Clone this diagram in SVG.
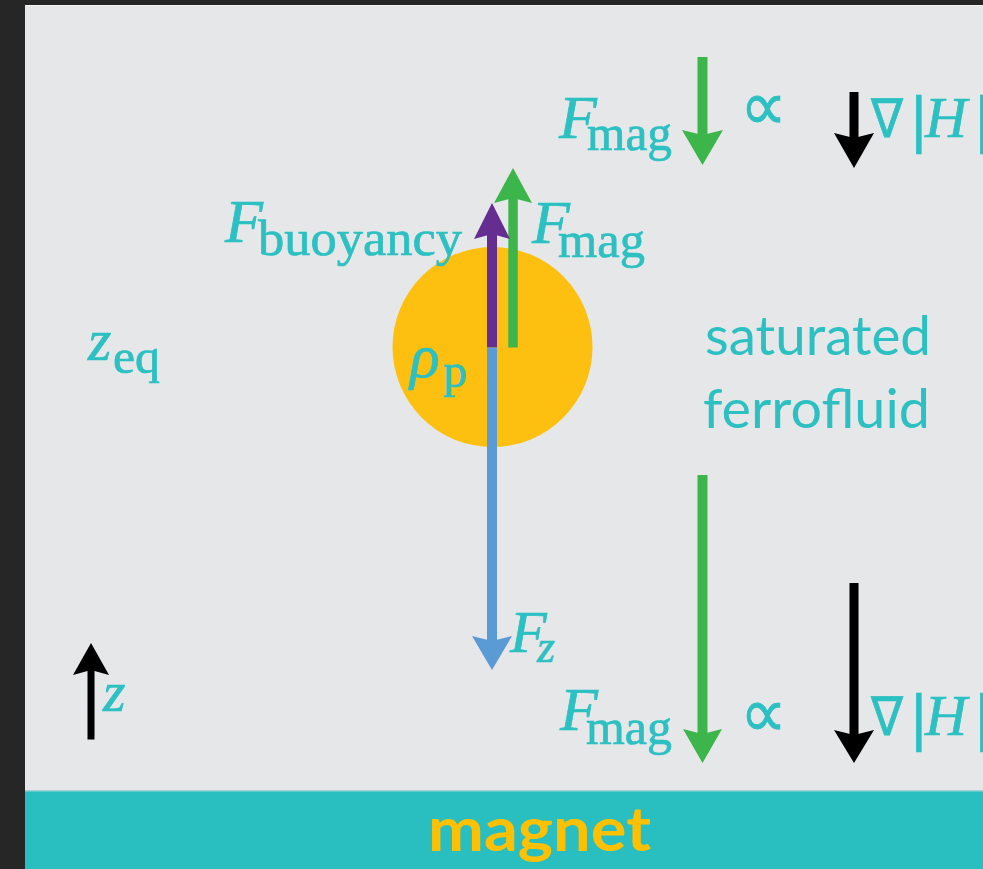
<svg xmlns="http://www.w3.org/2000/svg" width="983" height="869" viewBox="0 0 983 869">
<style>
.m{font-family:"Liberation Serif","DejaVu Serif",serif;fill:#2cc0c2;stroke:#2cc0c2;stroke-width:0.7}
.i{font-style:italic}
.d{font-family:"DejaVu Sans",sans-serif}
.g{font-family:Lato,"Open Sans",sans-serif;fill:#2cc0c2}
.grn{fill:#3cb54a}
.blk{fill:#000}
.pur{fill:#662d91}
.blu{fill:#5b9bd5}
</style>
<rect x="0" y="0" width="983" height="869" fill="#262626"/>
<rect x="25" y="5" width="958" height="1.5" fill="#f4f4f4"/>
<rect x="25" y="6" width="958" height="863" fill="#e6e7e8"/>
<g id="magnet">
<rect x="25" y="791" width="958" height="78" fill="#29bfc0"/>
<rect x="25" y="790" width="958" height="1.5" fill="#9fd3d4"/>
<text x="428" y="851" font-family="Lato,'Open Sans',sans-serif" font-weight="bold" font-size="62" fill="#ffc000" textLength="223" lengthAdjust="spacingAndGlyphs">magnet</text>
</g>
<g id="particle">
<circle cx="492.5" cy="347" r="100" fill="#fdc011"/>
<text class="m i" x="410" y="377" font-size="62">ρ</text>
<text class="m" x="443" y="387" font-size="48">p</text>
</g>
<g id="connectors">
<rect class="grn" x="508.3" y="198" width="9.5" height="149.5"/>
<path class="grn" d="M513,168 L532,203 L513,198 L494,203 Z"/>
<rect class="pur" x="487" y="233" width="10" height="114.5"/>
<path class="pur" d="M492,203 L510,239 L492,234 L474,239 Z"/>
<rect class="blu" x="487" y="347.5" width="10" height="295"/>
<path class="blu" d="M492,670 L512,636 L492,641 L472,636 Z"/>
<rect class="grn" x="697.5" y="57" width="10" height="78"/>
<path class="grn" d="M702.5,165 L723,130 L702.5,135 L682,130 Z"/>
<rect class="blk" x="849.5" y="92" width="9" height="46"/>
<path class="blk" d="M854,168 L874,133 L854,138 L834,133 Z"/>
<rect class="grn" x="697.5" y="475" width="10" height="260"/>
<path class="grn" d="M702.5,763 L722,729 L702.5,734 L683,729 Z"/>
<rect class="blk" x="849.5" y="583" width="9" height="152"/>
<path class="blk" d="M854,763 L874,730 L854,735 L834,730 Z"/>
<rect class="blk" x="87.5" y="670" width="7" height="69.5"/>
<path class="blk" d="M91,643 L109,675 L91,670 L73,675 Z"/>
</g>
<g id="label-fmag-top">
<text class="m i" x="559" y="138" font-size="62">F</text>
<text class="m" x="587" y="150" font-size="50" textLength="85" lengthAdjust="spacingAndGlyphs">mag</text>
<text class="m d" x="740" y="130" font-size="70" textLength="47" lengthAdjust="spacingAndGlyphs">∝</text>
<text class="m d i" x="871" y="137" font-size="54" textLength="32" lengthAdjust="spacingAndGlyphs">∇</text>
<text class="m d" x="909" y="140" font-size="58">|</text>
<text class="m i" x="925" y="137" font-size="58">H</text>
<text class="m d" x="973" y="140" font-size="58">|</text>
</g>
<g id="label-fmag-bottom">
<text class="m i" x="560" y="730" font-size="62">F</text>
<text class="m" x="586" y="744" font-size="50" textLength="86" lengthAdjust="spacingAndGlyphs">mag</text>
<text class="m d" x="740" y="737" font-size="70" textLength="47" lengthAdjust="spacingAndGlyphs">∝</text>
<text class="m d i" x="871" y="735" font-size="54" textLength="32" lengthAdjust="spacingAndGlyphs">∇</text>
<text class="m d" x="909" y="738" font-size="58">|</text>
<text class="m i" x="925" y="735" font-size="58">H</text>
<text class="m d" x="973" y="738" font-size="58">|</text>
</g>
<g id="label-fbuoyancy">
<text class="m i" x="225" y="242" font-size="62">F</text>
<text class="m" x="258" y="255" font-size="50" textLength="204" lengthAdjust="spacingAndGlyphs">buoyancy</text>
</g>
<g id="label-fmag-mid">
<text class="m i" x="532" y="243" font-size="62">F</text>
<text class="m" x="558" y="257" font-size="50" textLength="87" lengthAdjust="spacingAndGlyphs">mag</text>
</g>
<g id="label-fz">
<text class="m i" x="510" y="652" font-size="60">F</text>
<text class="m i" x="537" y="662" font-size="46">z</text>
</g>
<g id="label-zeq">
<text class="m i" x="88" y="360" font-size="60">z</text>
<text class="m" x="113" y="373" font-size="48" textLength="47" lengthAdjust="spacingAndGlyphs">eq</text>
</g>
<g id="label-z">
<text class="m i" x="103" y="711" font-size="58">z</text>
</g>
<g id="label-ferrofluid">
<text class="g" x="705" y="355" font-size="54" textLength="226" lengthAdjust="spacingAndGlyphs">saturated</text>
<text class="g" x="703" y="428" font-size="54" textLength="227" lengthAdjust="spacingAndGlyphs">ferrofluid</text>
</g>
</svg>
